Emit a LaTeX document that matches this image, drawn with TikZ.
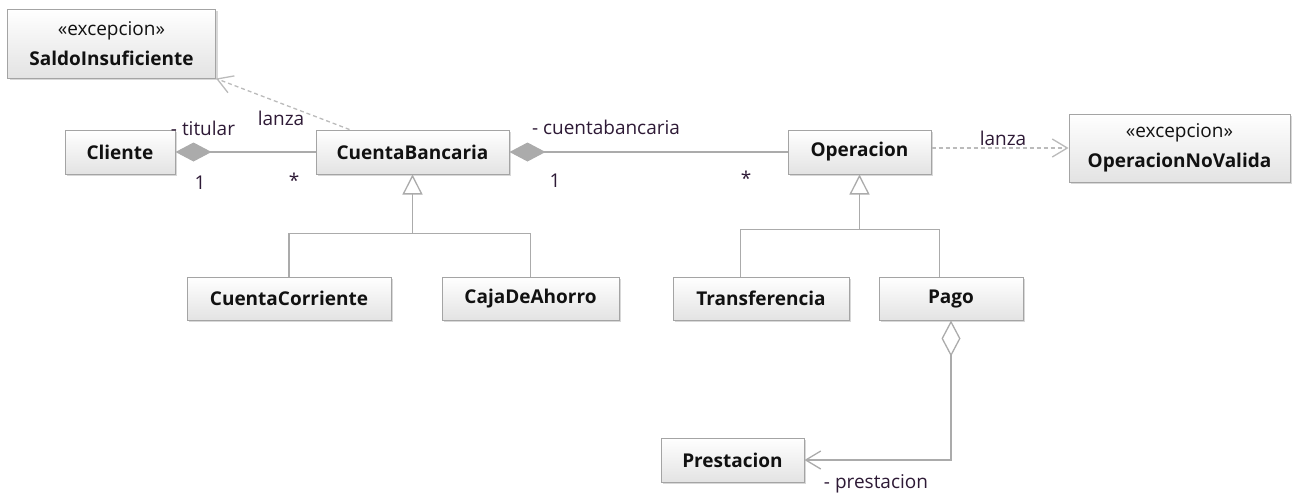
\documentclass[tikz,border=0pt]{standalone}
\usepackage{fontspec}
\setmainfont{Open Sans}
\usetikzlibrary{arrows.meta,shadows,calc}
\definecolor{lc}{HTML}{ABABAB}
\definecolor{dc}{HTML}{BBBBBB}
\definecolor{bc}{HTML}{A4A4A4}
\definecolor{tc}{HTML}{111111}
\definecolor{lab}{HTML}{2E1A36}
\begin{document}
\begin{tikzpicture}[x=1pt,y=-1pt,
  cls/.style={draw=bc, line width=1pt, top color=white, bottom color=black!11,
    drop shadow={shadow xshift=2pt,shadow yshift=-2pt,fill=black!30,opacity=.5},
    font=\fontsize{19}{30}\selectfont\bfseries, text=tc, inner sep=0pt, align=center},
  lbl/.style={font=\fontsize{19}{22}\selectfont, text=lab, inner sep=0pt},
  conn/.style={draw=lc, line width=1.3pt},
  dep/.style={draw=dc, line width=1.3pt, dash pattern=on 4pt off 3pt,
    -{Straight Barb[length=15pt,width=18pt]}},
  gentip/.style={-{Triangle[open,length=20pt,width=20pt,fill=white]}},
  comp/.style={{Diamond[length=36pt,width=19pt,fill=lc]}-},
  aggr/.style={{Diamond[open,length=36pt,width=19pt,fill=white]}-{Straight Barb[length=15pt,width=18pt]}}
]
\useasboundingbox (0,0) rectangle (1294,496);
% classes
\node[cls, minimum width=208pt, minimum height=69pt] (saldo) at (111.5,43.5)
  {{\mdseries «excepcion»}\\SaldoInsuficiente};
\node[cls, minimum width=110pt, minimum height=44pt] (cliente) at (120,152) {Cliente};
\node[cls, minimum width=193pt, minimum height=44pt] (cuenta) at (412.5,152) {CuentaBancaria};
\node[cls, minimum width=143pt, minimum height=44pt] (oper) at (859.5,152) {Operacion};
\node[cls, minimum width=221pt, minimum height=68pt] (onv) at (1179.5,148)
  {{\mdseries «excepcion»}\\OperacionNoValida};
\node[cls, minimum width=204pt, minimum height=43pt] (cc) at (289,298.5) {CuentaCorriente};
\node[cls, minimum width=177pt, minimum height=43pt] (caja) at (530.5,298.5) {CajaDeAhorro};
\node[cls, minimum width=176pt, minimum height=43pt] (tr) at (761,298.5) {Transferencia};
\node[cls, minimum width=144pt, minimum height=43pt] (pago) at (951,298.5) {Pago};
\node[cls, minimum width=143pt, minimum height=44pt] (prest) at (732.5,460) {Prestacion};
% dependencies
\draw[dep] ($(cuenta.north west)+(34,0)$) -- (saldo.south east);
\draw[dep] (oper.east |- onv.west) -- (onv.west);
% compositions
\draw[conn, comp] (cliente.east) -- (cuenta.west);
\draw[conn, comp] (cuenta.east) -- (oper.west);
% generalizations
\draw[conn, gentip] ($(cuenta.south)+(0,59)$) coordinate (g1) -- (cuenta.south);
\draw[conn] (cc.north) |- (g1) -| (caja.north);
\draw[conn, gentip] ($(oper.south)+(0,55)$) coordinate (g2) -- (oper.south);
\draw[conn] ($(tr.north west)+(68,0)$) |- (g2) -| ($(pago.north west)+(61,0)$);
% aggregation
\draw[conn, aggr] (pago.south) |- (prest.east);
% labels
\node[lbl] (ltit) at (203,128) {- titular};
\node[lbl] (llz1) at (281,118) {lanza};
\node[lbl] (l1a) at (200,183) {1};
\node[lbl] (lsa) at (294,180) {*};
\node[lbl] (lcb) at (606,127) {- cuentabancaria};
\node[lbl] (l1b) at (555,181) {1};
\node[lbl] (lsb) at (746,178) {*};
\node[lbl] (llz2) at (1003,138) {lanza};
\node[lbl] (lpr) at (876,484) {- prestacion};
\end{tikzpicture}
\end{document}
